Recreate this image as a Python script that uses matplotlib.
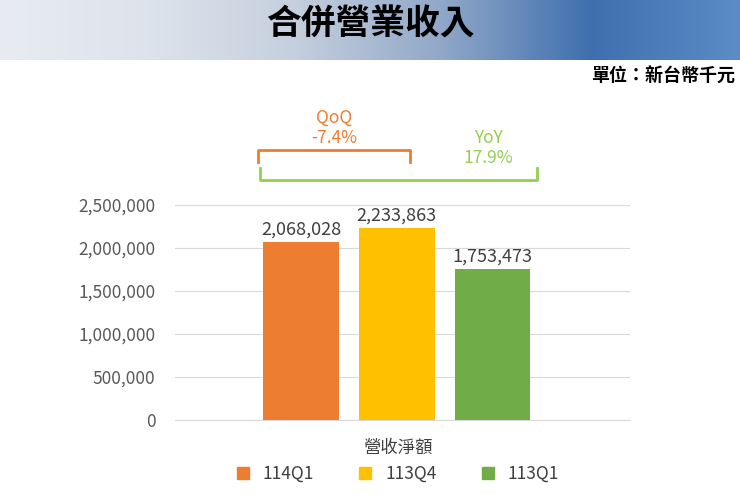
import numpy as np
import matplotlib.pyplot as plt
from matplotlib.patches import Patch
from matplotlib.colors import LinearSegmentedColormap

plt.rcParams['font.family'] = ['Noto Sans CJK TC', 'DejaVu Sans']

categories = ["114Q1", "113Q4", "113Q1"]
values = [2068028, 2233863, 1753473]
colors = ["#ED7D31", "#FFC000", "#70AD47"]
yticks = [0, 500000, 1000000, 1500000, 2000000, 2500000]

W, H = 740, 495
fig = plt.figure(figsize=(7.4, 4.95), dpi=100)


def fx(px):
    return px / W


def fy(py):
    return 1 - py / H


# header band (stands in for the photo)
hdr = fig.add_axes([0, fy(60), 1, 60 / H])
cmap = LinearSegmentedColormap.from_list(
    "hdr", ["#E8ECF2", "#DDE3EC", "#C5CFDD", "#8FA7C8", "#3F6FAE", "#5C8CC6"])
grad = np.linspace(0, 1, 256)[None, :]
hdr.imshow(np.vstack([grad, grad]), aspect="auto", cmap=cmap, extent=[0, 1, 0, 1])
hdr.set_axis_off()
fig.text(0.5, fy(24), "合併營業收入", ha="center", va="center", fontsize=25,
         fontweight="bold", color="black")
fig.text(fx(735), fy(76), "單位：新台幣千元", ha="right", va="center", fontsize=13,
         fontweight="bold", color="black")

ax = fig.add_axes([fx(175), fy(420), fx(630 - 175), (420 - 205) / H])
x = np.arange(len(categories))
ax.bar(x, values, width=0.79, color=colors, zorder=3)
for xi, v in zip(x, values):
    ax.text(xi, v + 40000, f"{v:,}", ha="center", va="bottom", fontsize=13, color="#404040")
ax.set_xlim(-1.32, 3.44)
ax.set_ylim(0, 2500000)
ax.set_yticks(yticks)
ax.set_yticklabels([f"{t:,}" for t in yticks], fontsize=12.5, color="#595959")
ax.yaxis.grid(True, color="#D9D9D9", linewidth=0.8, zorder=0)
ax.tick_params(axis="y", length=0, pad=14)
ax.set_xticks([])
for s in ["top", "right", "left"]:
    ax.spines[s].set_visible(False)
ax.spines["bottom"].set_color("#D9D9D9")

fig.text(fx(398), fy(448), "營收淨額", ha="center", va="center", fontsize=12.5, color="#404040")
handles = [Patch(color=c) for c in colors]
fig.legend(handles, categories, loc="center", bbox_to_anchor=(fx(398), fy(474)), ncol=3,
           frameon=False, fontsize=12.5, handlelength=0.7, handleheight=0.7,
           columnspacing=2.6, labelcolor="#404040")

ov = fig.add_axes([0, 0, 1, 1], facecolor="none")
ov.set_xlim(0, W)
ov.set_ylim(H, 0)
ov.set_axis_off()
# QoQ bracket
ov.plot([258, 258, 410, 410], [162, 150, 150, 162], color="#ED7D31", lw=2)
ov.text(334, 118, "QoQ", ha="center", va="center", fontsize=12.5, color="#ED7D31")
ov.text(334, 138, "-7.4%", ha="center", va="center", fontsize=12.5, color="#ED7D31")
# YoY bracket
ov.text(488, 138, "YoY", ha="center", va="center", fontsize=12.5, color="#92D050")
ov.text(488, 158, "17.9%", ha="center", va="center", fontsize=12.5, color="#92D050")
ov.plot([260, 260, 537, 537], [168, 180, 180, 168], color="#92D050", lw=2)

fig.savefig("out.png", dpi=100)
